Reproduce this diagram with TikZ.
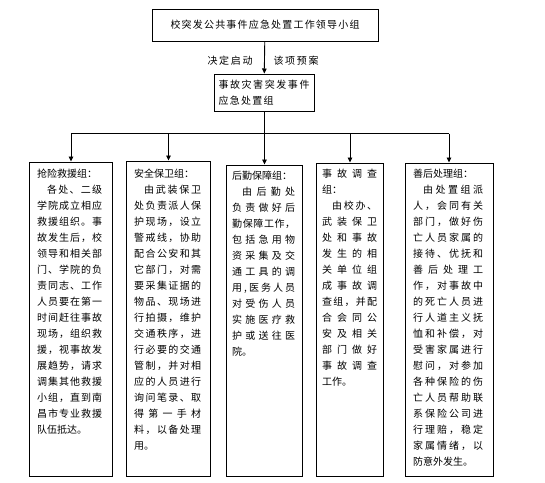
\documentclass[tikz,border=0pt]{standalone}
\usepackage{fontspec}
\usetikzlibrary{arrows.meta}
\newfontfamily\cjk{Noto Sans CJK SC}
\makeatletter
\def\spr#1{\spr@#1\@nil}
\def\spr@#1#2\@nil{#1\ifx\relax#2\relax\else\hfill\spr@#2\@nil\fi}
\makeatother
\newcommand\SL[1]{\makebox[\linewidth][s]{\spr{#1}}}
\newcommand\IL[1]{\hspace*{1em}\makebox[\dimexpr\linewidth-1em\relax][s]{\spr{#1}}}
\newcommand\WL[2]{\makebox[#1][s]{\spr{#2}}}
\tikzset{
  panel/.style={draw, line width=1pt, inner sep=0pt, anchor=north west},
  txt/.style={inner sep=0pt, anchor=north west, align=left, font=\cjk\fontsize{10}{16}\selectfont},
  lbl/.style={inner sep=0pt, font=\cjk\fontsize{10}{16}\selectfont},
  arr/.style={-{Triangle[length=5pt,width=4.5pt]}, line width=0.9pt},
  conn/.style={line width=0.9pt}
}
\begin{document}
\begin{tikzpicture}[x=1pt,y=-1pt]
\useasboundingbox (0,0) rectangle (545,482);
\fill[white] (0,0) rectangle (545,482);
% top box
\node[draw, line width=1pt, minimum width=226pt, minimum height=32pt, inner sep=0pt, font=\cjk\fontsize{10}{16}\selectfont] (top) at (265,25) {\WL{189pt}{校突发公共事件应急处置工作领导小组}};
% middle box
\node[draw, line width=1pt, minimum width=100pt, minimum height=37pt, text width=91pt, inner xsep=4.5pt, inner ysep=0pt, align=left, font=\cjk\fontsize{10}{16}\selectfont] (mid) at (264,92.5) {\WL{91pt}{事故灾害突发事件}\\\WL{55pt}{应急处置组}};
\node[lbl] (l1) at (230,61) {\WL{45pt}{决定启动}};
\node[lbl] (l2) at (296,61) {\WL{45pt}{该项预案}};
\draw[arr] (top) -- (mid);
% panels
\node[panel, minimum width=83.5pt, minimum height=314.5pt] (b1) at (28.5,161.5) {};
\node[panel, minimum width=84pt, minimum height=315.5pt] (b2) at (126,160.5) {};
\node[panel, minimum width=76pt, minimum height=311.5pt] (b3) at (226,164.5) {};
\node[panel, minimum width=67pt, minimum height=313.5pt] (b4) at (316,162.5) {};
\node[panel, minimum width=88pt, minimum height=313.5pt] (b5) at (405,162.5) {};
% connectors
\coordinate (j) at (264,133.5);
\coordinate (bl) at (71,133.5);
\coordinate (br) at (449,133.5);
\draw[conn] (mid) -- (j);
\draw[conn] (bl) -- (br);
\draw[arr] (bl) -- (bl |- b1.north);
\draw[arr] (b2.north |- j) -- (b2.north);
\draw[arr] (b3.north |- j) -- (b3.north);
\draw[arr] (b4.north |- j) -- (b4.north);
\draw[arr] (br) -- (br |- b5.north);
% texts
\node[txt, text width=65pt] (t1) at (37,168.5) {抢险救援组：\\
\IL{各处、二级}\\
\SL{学院成立相应}\\
\SL{救援组织。事}\\
\SL{故发生后，校}\\
\SL{领导和相关部}\\
\SL{门、学院的负}\\
\SL{责同志、工作}\\
\SL{人员要在第一}\\
\SL{时间赶往事故}\\
\SL{现场，组织救}\\
\SL{援，视事故发}\\
\SL{展趋势，请求}\\
\SL{调集其他救援}\\
\SL{小组，直到南}\\
\SL{昌市专业救援}\\
队伍抵达。};
\node[txt, text width=67pt] (t2) at (134,168.5) {安全保卫组：\\
\IL{由武装保卫}\\
\SL{处负责派人保}\\
\SL{护现场，设立}\\
\SL{警戒线，协助}\\
\SL{配合公安和其}\\
\SL{它部门，对需}\\
\SL{要采集证据的}\\
\SL{物品、现场进}\\
\SL{行拍摄，维护}\\
\SL{交通秩序，进}\\
\SL{行必要的交通}\\
\SL{管制，并对相}\\
\SL{应的人员进行}\\
\SL{询问笔录、取}\\
\SL{得第一手材}\\
\SL{料，以备处理}\\
用。};
\node[txt, text width=63pt] (t3) at (232,170.5) {后勤保障组：\\
\IL{由后勤处}\\
\SL{负责做好后}\\
\SL{勤保障工作，}\\
\SL{包括急用物}\\
\SL{资采集及交}\\
\SL{通工具的调}\\
\SL{用,医务人员}\\
\SL{对受伤人员}\\
\SL{实施医疗救}\\
\SL{护或送往医}\\
院。};
\node[txt, text width=55pt] (t4) at (322,168.5) {\SL{事故调查}\\
组：\\
\IL{由校办、}\\
\SL{武装保卫}\\
\SL{处和事故}\\
\SL{发生的相}\\
\SL{关单位组}\\
\SL{成事故调}\\
\SL{查组，并配}\\
\SL{合会同公}\\
\SL{安及相关}\\
\SL{部门做好}\\
\SL{事故调查}\\
工作。};
\node[txt, text width=70pt] (t5) at (413,168.5) {善后处理组：\\
\IL{由处置组派}\\
\SL{人，会同有关}\\
\SL{部门，做好伤}\\
\SL{亡人员家属的}\\
\SL{接待、优抚和}\\
\SL{善后处理工}\\
\SL{作，对事故中}\\
\SL{的死亡人员进}\\
\SL{行人道主义抚}\\
\SL{恤和补偿，对}\\
\SL{受害家属进行}\\
\SL{慰问，对参加}\\
\SL{各种保险的伤}\\
\SL{亡人员帮助联}\\
\SL{系保险公司进}\\
\SL{行理赔，稳定}\\
\SL{家属情绪，以}\\
防意外发生。};
\end{tikzpicture}
\end{document}
